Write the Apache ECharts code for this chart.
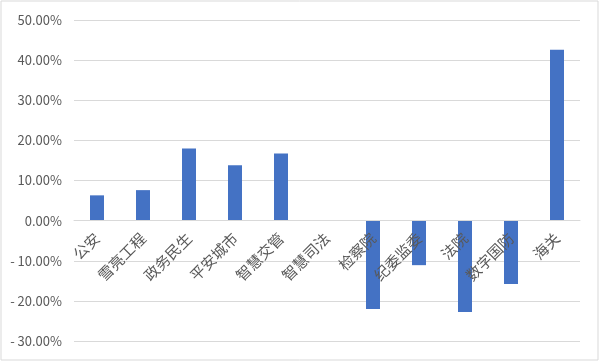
<!DOCTYPE html>
<html>
<head>
<meta charset="utf-8">
<script src="https://cdn.jsdelivr.net/npm/echarts@6/dist/echarts.min.js"></script>
<style>
html,body{margin:0;padding:0;background:#fff;}
#c{width:600px;height:361px;}
</style>
</head>
<body>
<div id="c"></div>
<script>
const categories = ['公安','雪亮工程','政务民生','平安城市','智慧交管','智慧司法','检察院','纪委监委','法院','数字国防','海关'];
const values = [6.3, 7.6, 18.0, 13.8, 16.7, 0, -22.0, -11.1, -22.8, -15.8, 42.6];
const yMin = -30, yMax = 50, yStep = 10;

const gridTop = 20, gridBottom = 20, H = 361;
const plotH = H - gridTop - gridBottom;
const zeroOffset = -plotH * (0 - yMin) / (yMax - yMin);

const chart = echarts.init(document.getElementById('c'), null, {renderer:'canvas'});
const font = '"Noto Sans CJK SC", "Noto Sans", sans-serif';
chart.setOption({
  animation: false,
  backgroundColor: '#fff',
  graphic: [{
    type: 'rect',
    shape: {x: 1, y: 1, width: 597, height: 359},
    style: {fill: 'none', stroke: '#d9d9d9', lineWidth: 1},
    silent: true
  }],
  grid: {left: 74, right: 20, top: gridTop, bottom: gridBottom, containLabel: false, outerBoundsMode: 'none'},
  xAxis: {
    type: 'category',
    data: categories,
    position: 'bottom',
    offset: zeroOffset,
    z: 10,
    axisLine: {show: true, onZero: false, lineStyle: {color: '#d9d9d9', width: 1}},
    axisTick: {show: false},
    axisLabel: {rotate: 45, color: '#595959', fontSize: 15, fontFamily: font, margin: 15, interval: 0}
  },
  yAxis: {
    type: 'value',
    min: yMin, max: yMax, interval: yStep,
    axisLine: {show: false},
    axisTick: {show: false},
    splitLine: {lineStyle: {color: '#d9d9d9', width: 1}},
    axisLabel: {
      color: '#595959', fontSize: 13, fontFamily: font, margin: 12,
      formatter: v => (v < 0 ? '- ' + Math.abs(v).toFixed(2) : v.toFixed(2)) + '%'
    }
  },
  series: [{
    type: 'bar',
    data: values,
    barWidth: 14,
    z: 2,
    itemStyle: {color: '#4472c4'}
  }]
});
</script>
</body>
</html>
